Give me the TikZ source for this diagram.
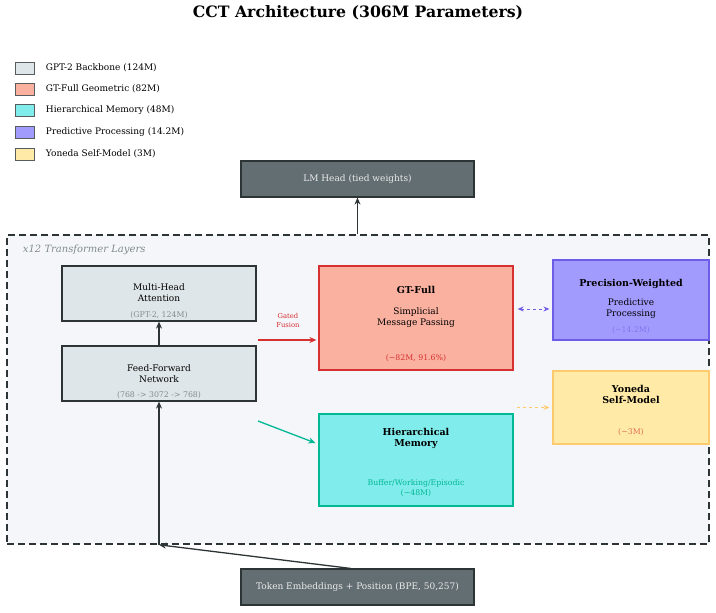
\documentclass[tikz,border=0pt]{standalone}
\usepackage{fontspec}
\setmainfont{DejaVu Serif}
\usepackage{tikz}
\usetikzlibrary{arrows.meta,calc}
\usepackage{xcolor}
\definecolor{dark}{HTML}{2D3436}
\definecolor{darkfill}{HTML}{636E72}
\definecolor{bbfill}{HTML}{DFE6E9}
\definecolor{gtfill}{HTML}{FAB1A0}
\definecolor{gtline}{HTML}{D63031}
\definecolor{hmfill}{HTML}{81ECEC}
\definecolor{hmline}{HTML}{00B894}
\definecolor{ppfill}{HTML}{A29BFE}
\definecolor{ppline}{HTML}{6C5CE7}
\definecolor{ysfill}{HTML}{FFEAA7}
\definecolor{ysline}{HTML}{FDCB6E}
\definecolor{ystxt}{HTML}{E17055}
\definecolor{layerbg}{HTML}{F5F6FA}
\definecolor{graytxt}{HTML}{7F8C8D}

\begin{document}
\begin{tikzpicture}[x=1pt, y=-1pt, >={Stealth[length=7pt,width=6pt]}, line width=1.3pt,
  box/.style={draw, line width=1.2pt, inner sep=0pt},
  legbox/.style={draw=dark!80, line width=0.8pt, minimum width=19, minimum height=12, inner sep=0pt},
  legtxt/.style={anchor=west, font=\fontsize{9}{11}\selectfont},
  txt/.style={align=center, font=\fontsize{9}{11}\selectfont},
  btxt/.style={align=center, font=\bfseries\fontsize{9.5}{11.5}\selectfont},
  stxt/.style={align=center, font=\fontsize{7.8}{10}\selectfont}]
\useasboundingbox (0,0) rectangle (716,613);
% titre
\node[font=\bfseries\fontsize{15.7}{18}\selectfont] (title) at (358,13) {CCT Architecture (306M Parameters)};
% legende
\node[legbox, fill=bbfill] (lg1) at (24.5,68) {};
\node[legtxt] (lt1) at (42,68) {GPT-2 Backbone (124M)};
\node[legbox, fill=gtfill] (lg2) at (24.5,89) {};
\node[legtxt] (lt2) at (42,89) {GT-Full Geometric (82M)};
\node[legbox, fill=hmfill] (lg3) at (24.5,110.5) {};
\node[legtxt] (lt3) at (42,110.5) {Hierarchical Memory (48M)};
\node[legbox, fill=ppfill] (lg4) at (24.5,132) {};
\node[legtxt] (lt4) at (42,132) {Predictive Processing (14.2M)};
\node[legbox, fill=ysfill] (lg5) at (24.5,154) {};
\node[legtxt] (lt5) at (42,154) {Yoneda Self-Model (3M)};
% tete
\node[box, draw=dark, fill=darkfill, text=white!92!black, txt, minimum width=233, minimum height=36] (lm) at (357.5,179) {LM Head (tied weights)};
% couches
\node[draw=dark, dash pattern=on 7pt off 4pt, line width=1.6pt, fill=layerbg, minimum width=702, minimum height=309, inner sep=0pt] (layers) at (358,389.5) {};
\node[anchor=west, text=graytxt, font=\itshape\fontsize{10}{12}\selectfont] (layerlbl) at (19,250) {x12 Transformer Layers};
% backbone
\node[box, draw=dark, fill=bbfill, minimum width=194, minimum height=55] (mha) at (159,293.5) {};
\node[txt] (mhat) at (159,292.5) {Multi-Head\\Attention};
\node[stxt, text=graytxt] (mhas) at (159,315) {(GPT-2, 124M)};
\node[box, draw=dark, fill=bbfill, minimum width=194, minimum height=55] (ff) at (159,373.5) {};
\node[txt] (fft) at (159,373.5) {Feed-Forward\\Network};
\node[stxt, text=graytxt] (ffs) at (159,395) {(768 -> 3072 -> 768)};
% gt-full
\node[box, draw=gtline, fill=gtfill, minimum width=194, minimum height=104] (gt) at (416,318) {};
\node[btxt] (gtt) at (416,290) {GT-Full};
\node[txt] (gtm) at (416,318) {Simplicial\\Message Passing};
\node[stxt, text=gtline] (gts) at (416,358) {(\textasciitilde82M, 91.6\%)};
% memoire
\node[box, draw=hmline, fill=hmfill, minimum width=194, minimum height=92] (hm) at (416,460) {};
\node[btxt] (hmt) at (416,438.5) {Hierarchical\\Memory};
\node[stxt, text=hmline] (hms) at (416,488) {Buffer/Working/Episodic\\(\textasciitilde48M)};
% predictive
\node[box, draw=ppline, fill=ppfill, minimum width=156, minimum height=80] (pw) at (631,300) {};
\node[btxt] (pwt) at (631,284) {Precision-Weighted};
\node[txt] (pwm) at (631,309) {Predictive\\Processing};
\node[stxt, text=ppline!85!white] (pws) at (631,330) {(\textasciitilde14.2M)};
% yoneda
\node[box, draw=ysline, fill=ysfill, minimum width=156, minimum height=73] (ys) at (631,407.5) {};
\node[btxt] (yst) at (631,394.5) {Yoneda\\Self-Model};
\node[stxt, text=ystxt] (yss) at (631,432) {(\textasciitilde3M)};
% entree
\node[box, draw=dark, fill=darkfill, text=white!92!black, txt, minimum width=233, minimum height=36] (te) at (357.5,587) {Token Embeddings + Position (BPE, 50,257)};
% fleches
\coordinate (entry) at (layers.south -| ff.south);
\coordinate (exit) at (layers.north -| lm.south);
\draw[->, dark] ([xshift=-7pt]te.north) -- (entry);
\draw[->, dark] (entry) -- (ff.south);
\draw[->, dark] (ff.north) -- (mha.south);
\draw[->, dark] (exit) -- (lm.south);
\coordinate (gfs) at (258,340);
\draw[->, gtline, shorten >=2pt] (gfs) -- (gfs -| gt.west);
\node[text=gtline, align=center, font=\fontsize{6.8}{9}\selectfont] (gflbl) at (288,320.5) {Gated\\Fusion};
\coordinate (hmstart) at (258,421);
\draw[->, hmline] (hmstart) -- ($(hm.west)+(-3,-17)$);
\draw[<->, ppline, dashed, line width=1pt, >={Stealth[length=6pt,width=5pt]}] ($(gt.east)+(4,-9)$) -- ($(pw.west)+(-3,9)$);
\draw[->, ysline, dashed, line width=1pt, >={Stealth[length=6pt,width=5pt]}] ($(hm.east |- ys.west)+(3,0)$) -- ($(ys.west)+(-3,0)$);
\end{tikzpicture}
\end{document}
